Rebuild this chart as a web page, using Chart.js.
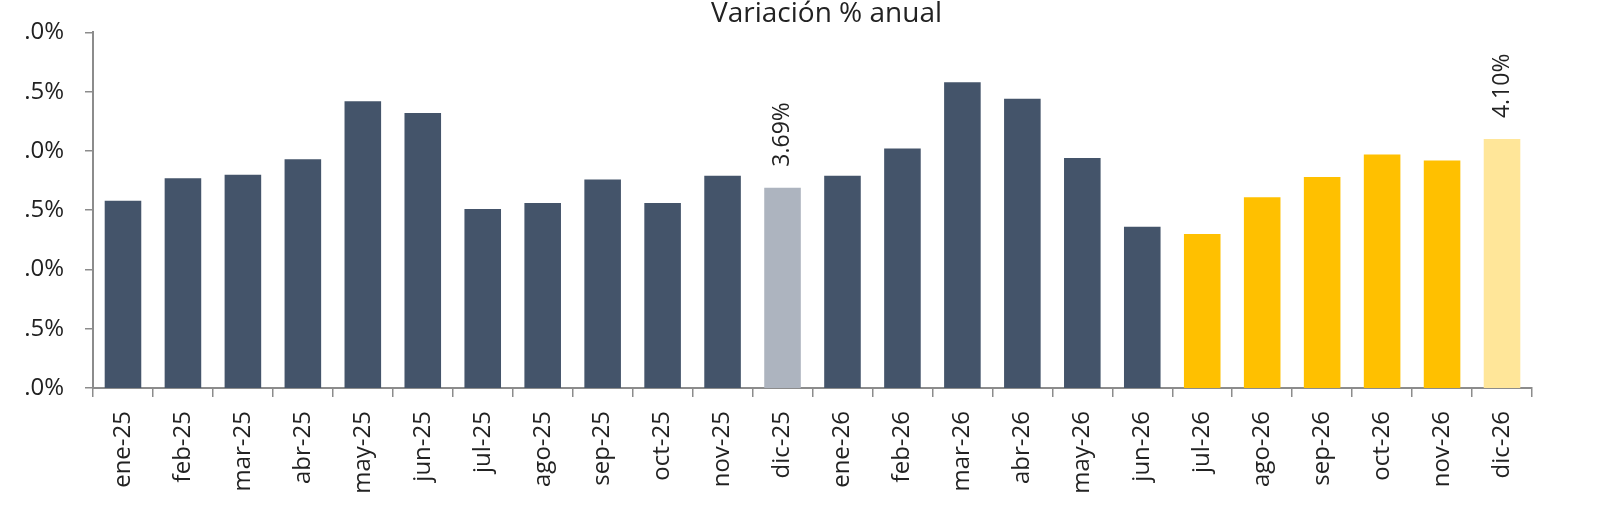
<!DOCTYPE html>
<html lang="es">
<head>
<meta charset="utf-8">
<title>Variación % anual</title>
<script src="https://cdn.jsdelivr.net/npm/chart.js@4.4.1/dist/chart.umd.min.js"></script>
<style>
  html, body { margin: 0; padding: 0; background: #fff; overflow: hidden; }
  #wrap { position: relative; width: 1607px; height: 526px; overflow: hidden; }
  /* chart is nudged up a little: the title is cropped at the top in the original */
  #chart { position: absolute; left: 0; top: -3px; }
</style>
</head>
<body>
<div id="wrap"><canvas id="chart" width="1607" height="529"></canvas></div>
<script>
(function () {
  "use strict";

  var months = ["ene-25", "feb-25", "mar-25", "abr-25", "may-25", "jun-25", "jul-25", "ago-25", "sep-25", "oct-25", "nov-25", "dic-25",
                "ene-26", "feb-26", "mar-26", "abr-26", "may-26", "jun-26", "jul-26", "ago-26", "sep-26", "oct-26", "nov-26", "dic-26"];
  var annualVar = [3.58, 3.77, 3.80, 3.93, 4.42, 4.32, 3.51, 3.56, 3.76, 3.56, 3.79, 3.69,
                   3.79, 4.02, 4.58, 4.44, 3.94, 3.36, 3.30, 3.61, 3.78, 3.97, 3.92, 4.10];
  var valueLabels = [null, null, null, null, null, null, null, null, null, null, null, "3.69%",
                     null, null, null, null, null, null, null, null, null, null, null, "4.10%"];
  // y tick texts as they show in the (left-cropped) original, bottom to top
  var yTickText = [".0%", ".5%", ".0%", ".5%", ".0%", ".5%", ".0%"];
  var FORECAST_FROM = "jul-26";
  var TITLE = "Variación % anual";

  var COL = { obs: "#44546A", obsLast: "#ADB4BF", fc: "#FFC000", fcLast: "#FFE699", axis: "#8C8C8C", text: "#222222" };
  var FONT = "'Open Sans', 'Noto Sans', sans-serif";

  function barColor(m, i) {
    var fc = i >= months.indexOf(FORECAST_FROM);
    if (valueLabels[i]) return fc ? COL.fcLast : COL.obsLast;
    return fc ? COL.fc : COL.obs;
  }

  var labelPlugin = {
    id: "valueLabels",
    afterDatasetsDraw: function (chart) {
      var ctx = chart.ctx, meta = chart.getDatasetMeta(0);
      ctx.save();
      ctx.font = "23px " + FONT;
      ctx.fillStyle = COL.text;
      ctx.textAlign = "left";
      ctx.textBaseline = "middle";
      valueLabels.forEach(function (t, i) {
        if (!t) return;
        var bar = meta.data[i];
        ctx.save();
        ctx.translate(bar.x, bar.y - 21);
        ctx.rotate(-Math.PI / 2);
        ctx.fillText(t, 0, 0);
        ctx.restore();
      });
      ctx.restore();
    }
  };

  // title sits a bit right of the plot centre and is cut at the top, as in the original
  var titlePlugin = {
    id: "offTitle",
    afterDraw: function (chart) {
      var ctx = chart.ctx, a = chart.chartArea;
      ctx.save();
      ctx.font = "28px " + FONT;
      ctx.fillStyle = COL.text;
      ctx.textAlign = "center";
      ctx.textBaseline = "alphabetic";
      ctx.fillText(TITLE, (a.left + a.right) / 2 + 14, 24.5);
      ctx.restore();
    }
  };

  new Chart(document.getElementById("chart"), {
    type: "bar",
    data: {
      labels: months,
      datasets: [{ data: annualVar, backgroundColor: months.map(barColor), barPercentage: 0.61, categoryPercentage: 1 }]
    },
    options: {
      responsive: false, animation: false,
      layout: { padding: { left: 0, right: 75, top: 31.3, bottom: 0 } },
      plugins: {
        legend: { display: false },
        tooltip: { enabled: false },
        title: { display: false }
      },
      scales: {
        x: {
          grid: { drawOnChartArea: false, drawTicks: true, tickLength: 9, color: COL.axis, lineWidth: 1.5 },
          border: { color: COL.axis, width: 2 },
          ticks: { autoSkip: false, minRotation: 90, maxRotation: 90, padding: 14, color: COL.text, font: { family: FONT, size: 24 } },
          afterFit: function (s) { s.height = 138; }
        },
        y: {
          min: 2, max: 5,
          grid: { drawOnChartArea: false, drawTicks: true, tickLength: 8, color: COL.axis, lineWidth: 1.5 },
          border: { color: COL.axis, width: 2 },
          ticks: { stepSize: 0.5, padding: 21, color: COL.text, font: { family: FONT, size: 24 },
            callback: function (v, i) { return yTickText[i]; } },
          afterFit: function (s) { s.width = 93; }
        }
      }
    },
    plugins: [labelPlugin, titlePlugin]
  });
})();
</script>
</body>
</html>
